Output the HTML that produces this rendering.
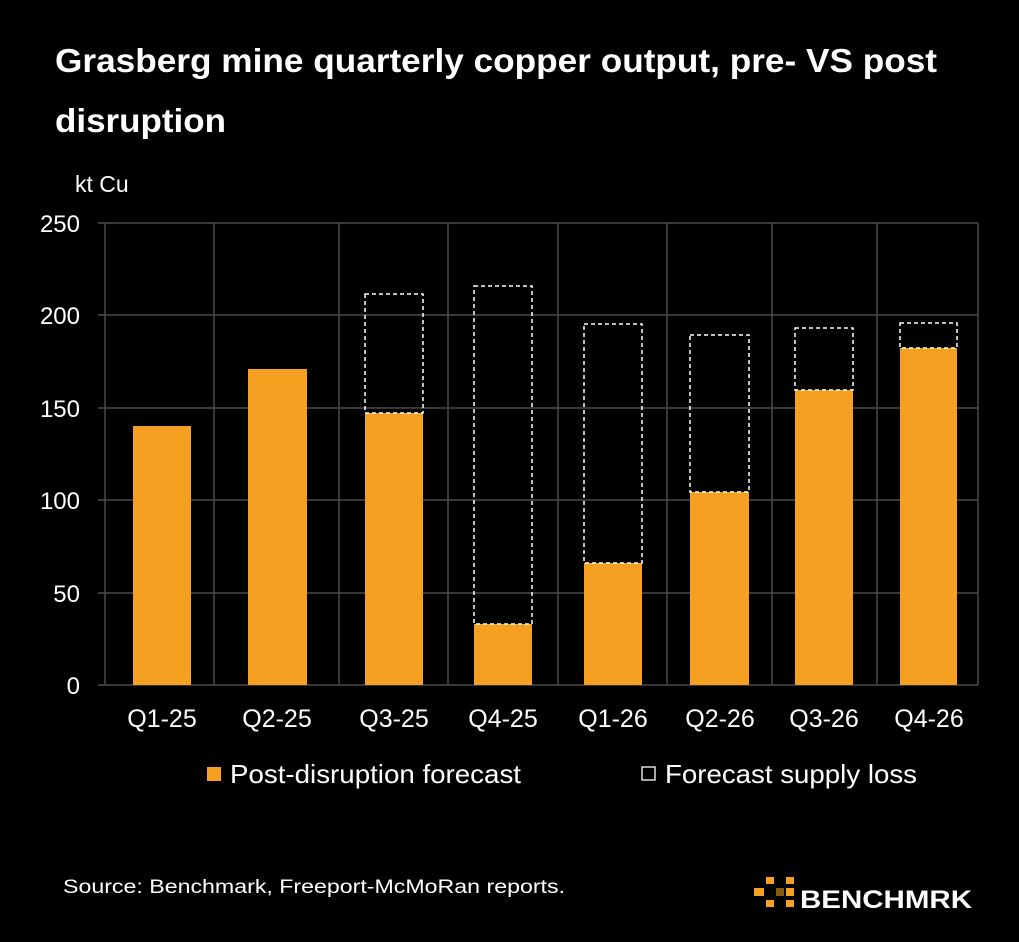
<!DOCTYPE html>
<html><head><meta charset="utf-8"><style>
body{margin:0;background:#000;width:1019px;height:937px;overflow:hidden;font-family:"Liberation Sans",sans-serif;color:#fff}
</style></head><body>
<svg width="1019" height="937" xmlns="http://www.w3.org/2000/svg" font-family="Liberation Sans, sans-serif">
<rect width="1019" height="937" fill="#000"/>
<text x="55" y="72" font-size="33" font-weight="bold" fill="#fff" textLength="882" lengthAdjust="spacingAndGlyphs">Grasberg mine quarterly copper output, pre- VS post</text>
<text x="55" y="132" font-size="33" font-weight="bold" fill="#fff" textLength="171" lengthAdjust="spacingAndGlyphs">disruption</text>
<text x="75" y="192" font-size="23" fill="#fff">kt Cu</text>
<g stroke="#4a4a4a" stroke-width="1.5">
<line x1="98" y1="223" x2="978" y2="223"/><line x1="98" y1="315" x2="978" y2="315"/>
<line x1="98" y1="408" x2="978" y2="408"/><line x1="98" y1="500" x2="978" y2="500"/>
<line x1="98" y1="593" x2="978" y2="593"/><line x1="98" y1="685" x2="978" y2="685"/>
<line x1="105" y1="223" x2="105" y2="685"/><line x1="214" y1="223" x2="214" y2="685"/>
<line x1="339" y1="223" x2="339" y2="685"/><line x1="448" y1="223" x2="448" y2="685"/>
<line x1="558" y1="223" x2="558" y2="685"/><line x1="667" y1="223" x2="667" y2="685"/>
<line x1="772" y1="223" x2="772" y2="685"/><line x1="877" y1="223" x2="877" y2="685"/>
<line x1="978" y1="223" x2="978" y2="685"/>
</g>
<g font-size="24" fill="#fff" text-anchor="end">
<text x="80" y="232">250</text><text x="80" y="324">200</text><text x="80" y="417">150</text>
<text x="80" y="509">100</text><text x="80" y="602">50</text><text x="80" y="694">0</text>
</g>
<g fill="#f5a020">
<rect x="133" y="426" width="58" height="259"/>
<rect x="248" y="369" width="59" height="316"/>
<rect x="365" y="413" width="58" height="272"/>
<rect x="474" y="624" width="58" height="61"/>
<rect x="584" y="563" width="58" height="122"/>
<rect x="690" y="492" width="59" height="193"/>
<rect x="795" y="390" width="58" height="295"/>
<rect x="900" y="348" width="57" height="337"/>
</g>
<g fill="none" stroke="#fff" stroke-width="1.5" stroke-dasharray="4,3">
<rect x="365" y="294" width="58" height="119"/>
<rect x="474" y="286" width="58" height="338"/>
<rect x="584" y="324" width="58" height="239"/>
<rect x="690" y="335" width="59" height="157"/>
<rect x="795" y="328" width="58" height="62"/>
<rect x="900" y="323" width="57" height="25"/>
</g>
<g font-size="25" fill="#fff" text-anchor="middle">
<text x="162" y="727">Q1-25</text><text x="277" y="727">Q2-25</text><text x="394" y="727">Q3-25</text>
<text x="503" y="727">Q4-25</text><text x="613" y="727">Q1-26</text><text x="720" y="727">Q2-26</text>
<text x="824" y="727">Q3-26</text><text x="929" y="727">Q4-26</text>
</g>
<rect x="207" y="767" width="14" height="14" fill="#f5a020"/>
<text x="230" y="783" font-size="26" fill="#fff" textLength="291" lengthAdjust="spacingAndGlyphs">Post-disruption forecast</text>
<rect x="642" y="767" width="13" height="13" fill="none" stroke="#fff" stroke-width="1.3"/>
<text x="665" y="783" font-size="26" fill="#fff" textLength="252" lengthAdjust="spacingAndGlyphs">Forecast supply loss</text>
<text x="63" y="893" font-size="19" fill="#fff" textLength="502" lengthAdjust="spacingAndGlyphs">Source: Benchmark, Freeport-McMoRan reports.</text>
<g fill="#f5a020">
<rect x="766" y="877" width="8" height="7"/><rect x="786" y="877" width="8" height="7"/>
<rect x="754" y="888" width="10" height="8"/><rect x="776" y="888" width="8" height="8" fill="#8a5a10"/><rect x="786" y="888" width="8" height="8"/>
<rect x="766" y="900" width="8" height="7"/><rect x="786" y="900" width="8" height="7"/>
</g>
<text x="800" y="908" font-size="25" font-weight="bold" fill="#fff" textLength="172" lengthAdjust="spacingAndGlyphs">BENCHMRK</text>
</svg>
</body></html>
